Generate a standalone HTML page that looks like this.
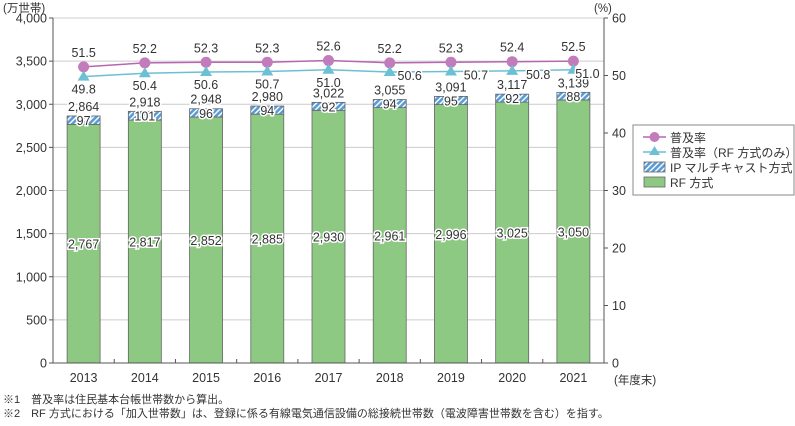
<!DOCTYPE html>
<html><head><meta charset="utf-8">
<style>
body{margin:0;background:#fff;}
svg text{font-family:"Liberation Sans","Noto Sans CJK JP",sans-serif;fill:#333;}
</style></head>
<body>
<svg id="chart" width="795" height="421" viewBox="0 0 795 421" xmlns="http://www.w3.org/2000/svg">
<defs>
<pattern id="hatch" patternUnits="userSpaceOnUse" width="4" height="4" patternTransform="rotate(45)">
<rect width="4" height="4" fill="#5b9bd5"/><rect width="1.4" height="4" fill="#fff"/>
</pattern>
</defs>
<g id="grid"></g>
<g id="bars"></g>
<g id="lines"></g>
<g id="axes"></g>
<g id="labels"></g>
<g>
<rect x="633" y="125" width="161" height="70" fill="#fff" stroke="#888" stroke-width="1"/>
<g>
<line x1="643" y1="137" x2="666" y2="137" stroke="#b866b0" stroke-width="1.5"/><circle cx="654.5" cy="137" r="5" fill="#c27bbb"/>
<text x="670" y="142" font-size="12">普及率</text></g>
<g>
<line x1="643" y1="152" x2="666" y2="152" stroke="#6cc0d4" stroke-width="1.5"/><polygon points="654.5,146 660,155 649,155" fill="#6cc0d4"/>
<text x="670" y="157" font-size="12">普及率（RF 方式のみ）</text></g>
<g>
<rect x="644" y="162" width="21" height="10" fill="url(#hatch)" stroke="#666" stroke-width="0.8"/>
<text x="670" y="172" font-size="12">IP マルチキャスト方式</text></g>
<g>
<rect x="644" y="177" width="21" height="10" fill="#8dc983" stroke="#666" stroke-width="0.8"/>
<text x="670" y="187" font-size="12">RF 方式</text></g>
</g>
<text x="3" y="12" font-size="11.5">(万世帯)</text>
<text x="594" y="12" font-size="11.5">(%)</text>
<text x="614" y="384" font-size="11.5">(年度末)</text>
<text x="3" y="403" font-size="11">※1　普及率は住民基本台帳世帯数から算出。</text>
<text x="3" y="417" font-size="11">※2　RF 方式における「加入世帯数」は、登録に係る有線電気通信設備の総接続世帯数（電波障害世帯数を含む）を指す。</text>
</svg>
<script>
const years=["2013","2014","2015","2016","2017","2018","2019","2020","2021"];
const rfValues=[2767,2817,2852,2885,2930,2961,2996,3025,3050];
const ipValues=[97,101,96,94,92,94,95,92,88];
const totals=[2864,2918,2948,2980,3022,3055,3091,3117,3139];
const rate=[51.5,52.2,52.3,52.3,52.6,52.2,52.3,52.4,52.5];
const rfRate=[49.8,50.4,50.6,50.7,51.0,50.6,50.7,50.8,51.0];
const leftTicks=[0,500,1000,1500,2000,2500,3000,3500,4000];
const rightTicks=[0,10,20,30,40,50,60];

const NS="http://www.w3.org/2000/svg";
const X0=53,X1=604,Y0=363,Y1=18;
const band=(X1-X0)/years.length;
const xc=i=>X0+band*(i+0.5);
const yL=v=>Y0-(v/4000)*(Y0-Y1);
const yR=v=>Y0-(v/60)*(Y0-Y1);
const rfLabelDx=[0,0,0,0,0,20,25,26,14];
function mk(tag,attrs,parent,txt){const e=document.createElementNS(NS,tag);for(const k in attrs)e.setAttribute(k,attrs[k]);if(txt!==undefined)e.textContent=txt;parent.appendChild(e);return e;}
const grid=document.getElementById('grid'),bars=document.getElementById('bars'),lines=document.getElementById('lines'),axes=document.getElementById('axes'),labels=document.getElementById('labels');
const fmt=v=>v.toLocaleString('en-US');

leftTicks.forEach(t=>{
  if(t>0){const g=mk('line',{x1:X0,x2:X1,y1:yL(t),y2:yL(t),stroke:'#ccc','stroke-width':1},grid);
  
  }
  mk('line',{x1:X0-4,x2:X0,y1:yL(t),y2:yL(t),stroke:'#555'},axes);
  const tx=mk('text',{x:X0-6,y:yL(t)+4.5,'font-size':12.5,'text-anchor':'end'},axes,fmt(t));
  
  
});
rightTicks.forEach(t=>{
  mk('line',{x1:X1,x2:X1+4,y1:yR(t),y2:yR(t),stroke:'#555'},axes);
  const tx=mk('text',{x:X1+8,y:yR(t)+4.5,'font-size':12.5},axes,String(t));
  
  
});
mk('line',{x1:X0,x2:X0,y1:Y1,y2:Y0,stroke:'#555'},axes);
mk('line',{x1:X1,x2:X1,y1:Y1,y2:Y0,stroke:'#555'},axes);
mk('line',{x1:X0,x2:X1,y1:Y0,y2:Y0,stroke:'#555'},axes);
for(let i=1;i<years.length;i++) mk('line',{x1:X0+band*i,x2:X0+band*i,y1:Y0,y2:Y0-4,stroke:'#555'},axes);

const bw=33;
years.forEach((y,i)=>{
  const x=xc(i)-bw/2;
  const r=mk('rect',{x:x,y:yL(rfValues[i]),width:bw,height:Y0-yL(rfValues[i]),fill:'#8dc983',stroke:'#666','stroke-width':0.8},bars);
  
  
  const p=mk('rect',{x:x,y:yL(rfValues[i]+ipValues[i]),width:bw,height:yL(rfValues[i])-yL(rfValues[i]+ipValues[i]),fill:'url(#hatch)',stroke:'#666','stroke-width':0.8},bars);
  
  
  const t1=mk('text',{x:xc(i),y:yL(rfValues[i]/2)+5,'font-size':12.5,'text-anchor':'middle',stroke:'#fff','stroke-width':3,'paint-order':'stroke'},labels,fmt(rfValues[i]));
  
  
  const t2=mk('text',{x:xc(i),y:yL(rfValues[i]+ipValues[i]/2)+5,'font-size':12.5,'text-anchor':'middle',stroke:'#fff','stroke-width':3,'paint-order':'stroke'},labels,String(ipValues[i]));
  
  
  const t3=mk('text',{x:xc(i),y:yL(totals[i])-5,'font-size':12.5,'text-anchor':'middle',stroke:'#fff','stroke-width':3,'paint-order':'stroke'},labels,fmt(totals[i]));
  
  
  const xl=mk('text',{x:xc(i),y:382,'font-size':12.5,'text-anchor':'middle'},axes,y);
  
  
});

const l1=mk('polyline',{points:rate.map((v,i)=>xc(i)+','+yR(v)).join(' '),fill:'none',stroke:'#b866b0','stroke-width':1.5},lines);


const l2=mk('polyline',{points:rfRate.map((v,i)=>xc(i)+','+yR(v)).join(' '),fill:'none',stroke:'#6cc0d4','stroke-width':1.5},lines);


rate.forEach((v,i)=>{
  const c=mk('circle',{cx:xc(i),cy:yR(v),r:5.5,fill:'#c27bbb'},lines);
  
  
  const t=mk('text',{x:xc(i),y:yR(v)-10,'font-size':12.5,'text-anchor':'middle'},labels,v.toFixed(1));
  
  
});
rfRate.forEach((v,i)=>{
  const x=xc(i),y=yR(v);
  const tri=mk('polygon',{points:`${x},${y-6} ${x+6},${y+4} ${x-6},${y+4}`,fill:'#6cc0d4'},lines);
  
  
  const dx=rfLabelDx[i];
  const t=mk('text',{x:x+dx,y:dx?y+8:y+17,'font-size':12.5,'text-anchor':'middle',stroke:'#fff','stroke-width':3,'paint-order':'stroke'},labels,v.toFixed(1));
  
  
});
</script>
</body></html>
